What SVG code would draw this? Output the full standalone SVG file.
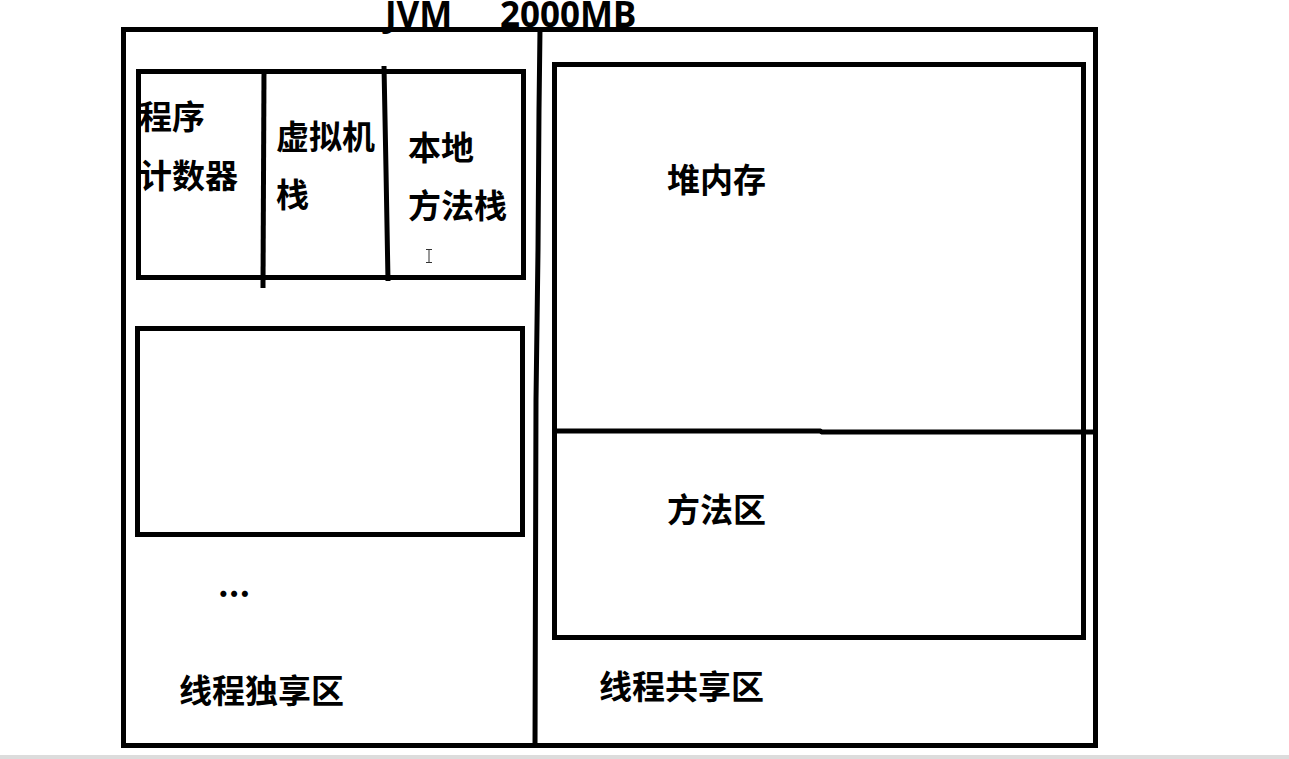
<svg xmlns="http://www.w3.org/2000/svg" width="1289" height="759" viewBox="0 0 1289 759">
<style>
.box{fill:none;stroke:#000;stroke-width:5}
.ln{fill:none;stroke:#000;stroke-width:5;stroke-linecap:butt}
.t{font-family:"Noto Sans CJK SC","Noto Sans",sans-serif;font-weight:bold;font-size:33px;fill:#000}
.h{font-family:"Noto Sans","Noto Sans CJK SC",sans-serif;font-weight:bold;font-size:35px;fill:#000}
</style>
<rect x="0" y="0" width="1289" height="759" fill="#fff"/>
<rect x="0" y="755" width="1289" height="4" fill="#dcdcdc"/>
<g id="title"><text class="h" x="385" y="27">JVM<tspan x="500">2000MB</tspan></text></g>
<g id="jvm"><rect class="box" x="123.5" y="29.5" width="972" height="716"/></g>
<g id="connectors">
<path class="ln" d="M540 29 L539 110 L538 250 L536 400 L535 747"/>
<path class="ln" d="M264 70 L263 288"/>
<path class="ln" d="M384 66 L386 170 L388 281"/>
<path class="ln" d="M553 431 L820 431 L822 432 L1095 432"/>
</g>
<g id="thread-private">
<g id="stack-frame"><rect class="box" x="138.5" y="71.5" width="385" height="206"/></g>
<g id="pc"><text class="t" x="139" y="129">程序</text><text class="t" x="139" y="188">计数器</text></g>
<g id="vm-stack"><text class="t" x="276" y="149">虚拟机</text><text class="t" x="276" y="207">栈</text></g>
<g id="native-stack"><text class="t" x="408" y="160">本地</text><text class="t" x="408" y="218">方法栈</text>
<path d="M426 249.5 H432 M429 249.5 V262.5 M426 262.5 H432" fill="none" stroke="#333" stroke-width="1"/></g>
<g id="thread2"><rect class="box" x="137.5" y="328.5" width="385" height="206"/></g>
<g id="more"><text class="t" x="218" y="597" font-size="24">...</text></g>
<g id="private-label"><text class="t" x="179" y="703">线程独享区</text></g>
</g>
<g id="thread-shared">
<g id="heap-box"><rect class="box" x="554.5" y="64.5" width="529" height="573"/></g>
<g id="heap"><text class="t" x="667" y="192">堆内存</text></g>
<g id="method-area"><text class="t" x="667" y="522">方法区</text></g>
<g id="shared-label"><text class="t" x="599" y="699">线程共享区</text></g>
</g>
</svg>
